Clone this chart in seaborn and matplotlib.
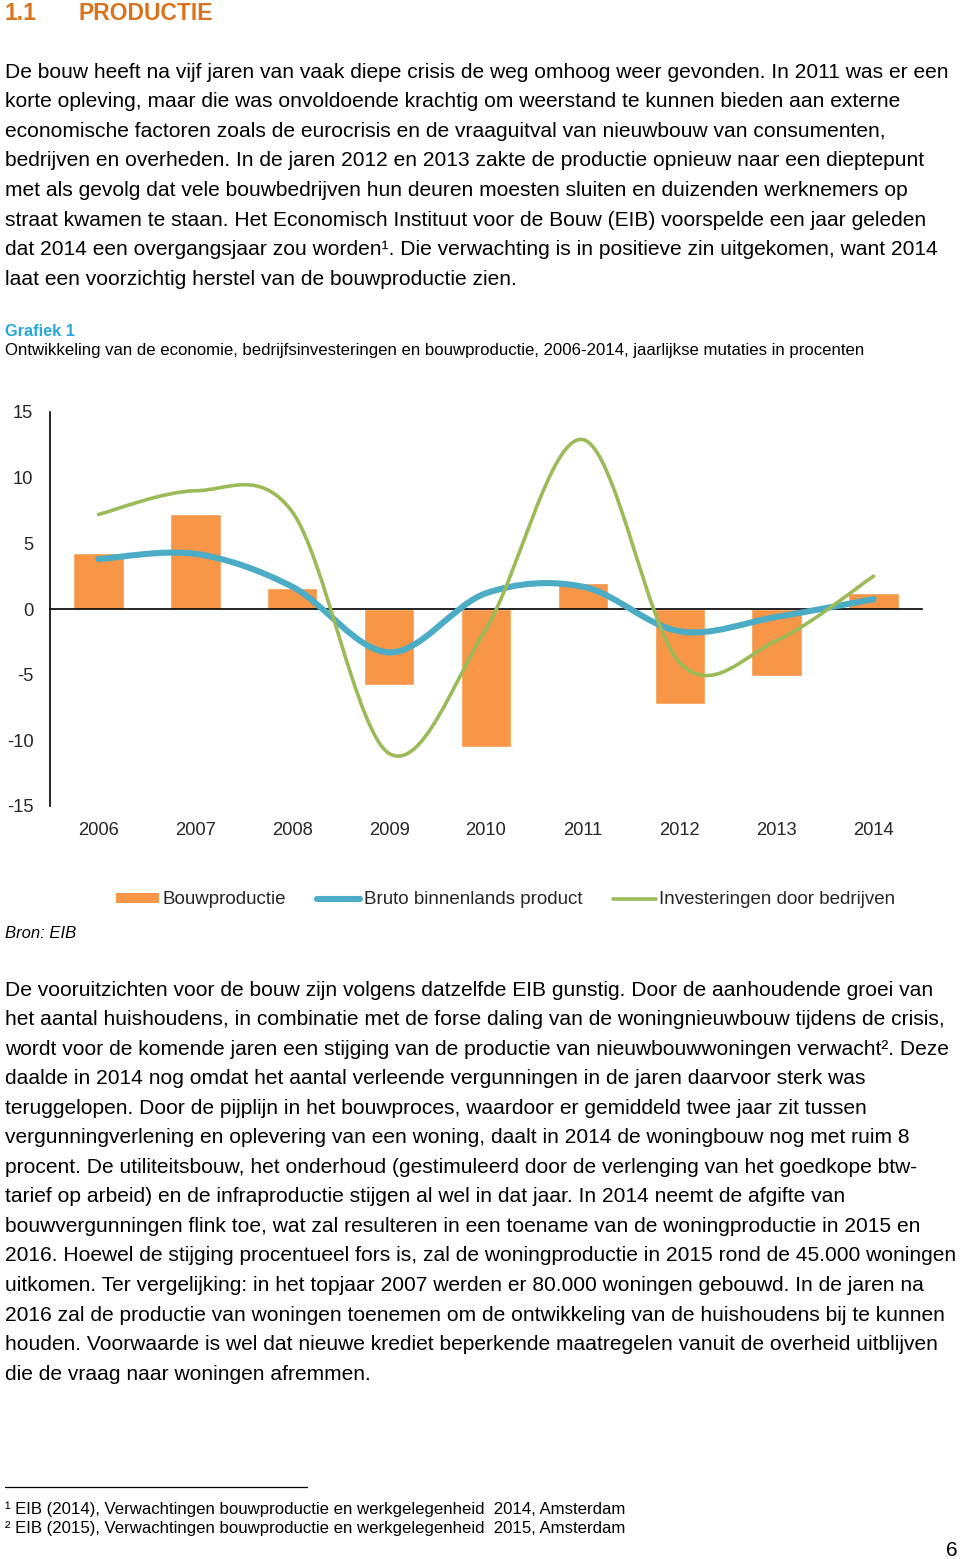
import numpy as np
import matplotlib
matplotlib.use("Agg")
import matplotlib.pyplot as plt
from matplotlib.path import Path
from matplotlib.patches import PathPatch, Patch
from matplotlib.lines import Line2D
import seaborn as sns

# data (jaarlijkse mutaties in %)
years = ["2006", "2007", "2008", "2009", "2010", "2011", "2012", "2013", "2014"]
bouwproductie = [4.3, 7.2, 1.6, -5.8, -10.5, 2.0, -7.2, -5.1, 1.2]
bbp = [3.8, 4.2, 1.7, -3.3, 1.2, 1.7, -1.7, -0.6, 0.75]
investeringen = [7.2, 9.0, 7.4, -11.0, -1.5, 12.9, -4.1, -2.4, 2.5]
y_ticks = [15, 10, 5, 0, -5, -10, -15]

ORANGE = "#F79646"
BLUE = "#4BACC6"
GREEN = "#9BBB59"
HEAD = "#D9731E"
CYAN = "#27A8DC"

para1 = [
    "De bouw heeft na vijf jaren van vaak diepe crisis de weg omhoog weer gevonden. In 2011 was er een",
    "korte opleving, maar die was onvoldoende krachtig om weerstand te kunnen bieden aan externe",
    "economische factoren zoals de eurocrisis en de vraaguitval van nieuwbouw van consumenten,",
    "bedrijven en overheden. In de jaren 2012 en 2013 zakte de productie opnieuw naar een dieptepunt",
    "met als gevolg dat vele bouwbedrijven hun deuren moesten sluiten en duizenden werknemers op",
    "straat kwamen te staan. Het Economisch Instituut voor de Bouw (EIB) voorspelde een jaar geleden",
    "dat 2014 een overgangsjaar zou worden\u00b9. Die verwachting is in positieve zin uitgekomen, want 2014",
    "laat een voorzichtig herstel van de bouwproductie zien.",
]
para2 = [
    "De vooruitzichten voor de bouw zijn volgens datzelfde EIB gunstig. Door de aanhoudende groei van",
    "het aantal huishoudens, in combinatie met de forse daling van de woningnieuwbouw tijdens de crisis,",
    "wordt voor de komende jaren een stijging van de productie van nieuwbouwwoningen verwacht\u00b2. Deze",
    "daalde in 2014 nog omdat het aantal verleende vergunningen in de jaren daarvoor sterk was",
    "teruggelopen. Door de pijplijn in het bouwproces, waardoor er gemiddeld twee jaar zit tussen",
    "vergunningverlening en oplevering van een woning, daalt in 2014 de woningbouw nog met ruim 8",
    "procent. De utiliteitsbouw, het onderhoud (gestimuleerd door de verlenging van het goedkope btw-",
    "tarief op arbeid) en de infraproductie stijgen al wel in dat jaar. In 2014 neemt de afgifte van",
    "bouwvergunningen flink toe, wat zal resulteren in een toename van de woningproductie in 2015 en",
    "2016. Hoewel de stijging procentueel fors is, zal de woningproductie in 2015 rond de 45.000 woningen",
    "uitkomen. Ter vergelijking: in het topjaar 2007 werden er 80.000 woningen gebouwd. In de jaren na",
    "2016 zal de productie van woningen toenemen om de ontwikkeling van de huishoudens bij te kunnen",
    "houden. Voorwaarde is wel dat nieuwe krediet beperkende maatregelen vanuit de overheid uitblijven",
    "die de vraag naar woningen afremmen.",
]
footnotes = [
    "\u00b9 EIB (2014), Verwachtingen bouwproductie en werkgelegenheid  2014, Amsterdam",
    "\u00b2 EIB (2015), Verwachtingen bouwproductie en werkgelegenheid  2015, Amsterdam",
]

sns.set_style("white")
plt.rcParams["font.family"] = ["Liberation Sans", "DejaVu Sans"]

W, H = 960, 1559
fig = plt.figure(figsize=(W / 100, H / 100), dpi=100)


def ftext(x, y, s, va="center", **kw):
    # place text using page pixel coordinates (y from top)
    fig.text(x / W, 1 - y / H, s, va=va, **kw)


# header
ftext(5, 20, "1.1", va="baseline", fontsize=16.5, fontweight="bold", color=HEAD)
ftext(79, 20, "PRODUCTIE", va="baseline", fontsize=16.5, fontweight="bold", color=HEAD)

for i, line in enumerate(para1):
    ftext(5, 72 + i * 29.6, line, fontsize=15.1, color="black")

ftext(5, 331, "Grafiek 1", fontsize=11.8, fontweight="bold", color=CYAN)
ftext(5, 350, "Ontwikkeling van de economie, bedrijfsinvesteringen en bouwproductie, 2006-2014, "
      "jaarlijkse mutaties in procenten", fontsize=12.1, color="black")

# chart
ax = fig.add_axes([50 / W, 1 - 806 / H, 872 / W, 394 / H])
sns.barplot(x=years, y=bouwproductie, color=ORANGE, saturation=1, width=0.52, ax=ax)


def smooth(xs, ys):
    # Excel-like smoothed line: cubic bezier segments (Catmull-Rom tangents)
    p = np.column_stack([xs, ys]).astype(float)
    n = len(p)
    verts = [p[0]]
    codes = [Path.MOVETO]
    for i in range(n - 1):
        p0 = p[max(i - 1, 0)]
        p1 = p[i]
        p2 = p[i + 1]
        p3 = p[min(i + 2, n - 1)]
        c1 = p1 + (p2 - p0) / 6
        c2 = p2 - (p3 - p1) / 6
        verts += [c1, c2, p2]
        codes += [Path.CURVE4] * 3
    return Path(verts, codes)


xpos = np.arange(len(years))
ax.add_patch(PathPatch(smooth(xpos, bbp), fill=False, edgecolor=BLUE, lw=4.4,
                       capstyle="round", joinstyle="round", zorder=3))
ax.add_patch(PathPatch(smooth(xpos, investeringen), fill=False, edgecolor=GREEN, lw=2.6,
                       capstyle="round", joinstyle="round", zorder=4))

ax.set_xlim(-0.5, len(years) - 0.5)
ax.set_ylim(-15, 15)
ax.set_yticks(y_ticks)
ax.set_yticklabels([str(v) for v in y_ticks])
ax.set_xticks(np.arange(len(years) + 1) - 0.5)
ax.set_xticklabels([])
ax.set_xticks(xpos, minor=True)
ax.set_xticklabels(years, minor=True)
ax.tick_params(axis="x", which="major", direction="out", length=4, width=1.2, color="black")
ax.tick_params(axis="x", which="minor", length=0, pad=153.5, labelsize=13.2)
ax.tick_params(axis="y", direction="out", length=4, width=1.2, color="black", pad=8, labelsize=13.2)
ax.spines["top"].set_visible(False)
ax.spines["right"].set_visible(False)
ax.spines["bottom"].set_position(("data", 0))
for s in ("left", "bottom"):
    ax.spines[s].set_color("black")
    ax.spines[s].set_linewidth(1.2)
ax.set_xlabel("")
ax.set_ylabel("")
ax.grid(False)

handles = [
    Patch(facecolor=ORANGE, edgecolor="none"),
    Line2D([], [], color=BLUE, lw=4.4, solid_capstyle="round"),
    Line2D([], [], color=GREEN, lw=2.6, solid_capstyle="round"),
]
fig.legend(handles, ["Bouwproductie", "Bruto binnenlands product", "Investeringen door bedrijven"],
           loc="center left", bbox_to_anchor=(116 / W, 1 - 900 / H), ncol=3, frameon=False,
           fontsize=13.5, handlelength=2.3, handleheight=0.45, handletextpad=0.2,
           columnspacing=1.62, borderpad=0, borderaxespad=0)

ftext(5, 933, "Bron: EIB", fontsize=12, fontstyle="italic", color="black")

for i, line in enumerate(para2):
    ftext(5, 990 + i * 29.55, line, fontsize=15.1, color="black")

fig.add_artist(Line2D([5 / W, 307 / W], [1 - 1487 / H, 1 - 1487 / H], transform=fig.transFigure,
                      color="black", lw=0.9))
for i, line in enumerate(footnotes):
    ftext(5, 1509 + i * 20, line, fontsize=12.1, color="black")

fig.text(958 / W, 1 - 1551 / H, "6", ha="right", va="center", fontsize=15, color="black")

fig.savefig("out.png", dpi=100)
